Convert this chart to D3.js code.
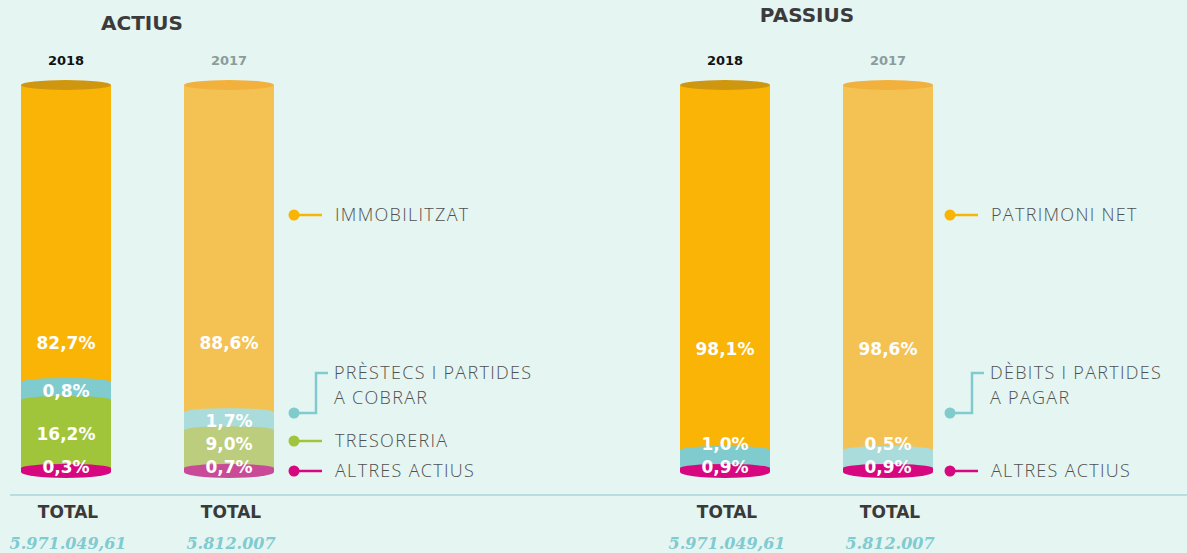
<!DOCTYPE html>
<html>
<head>
<meta charset="utf-8">
<script src="https://cdn.jsdelivr.net/npm/d3@7"></script>
<style>
  html, body { margin: 0; padding: 0; background: #e5f5f2; }
  svg { display: block; }
  .pct { font-family: "DejaVu Sans", sans-serif; font-weight: bold; font-size: 17px; fill: #fff; }
  .legend { font-family: "Open Sans", sans-serif; font-weight: 300; font-size: 18px; fill: #505050; letter-spacing: 1.3px; }
</style>
</head>
<body>
<script>
// dades
var years = ["2018", "2017"];
var actiusCats = ["IMMOBILITZAT", "PRÈSTECS I PARTIDES|A COBRAR", "TRESORERIA", "ALTRES ACTIUS"];
var actius2018 = [82.7, 0.8, 16.2, 0.3];
var actius2017 = [88.6, 1.7, 9.0, 0.7];
var actiusTotals = ["5.971.049,61", "5.812.007"];
var passiusCats = ["PATRIMONI NET", "DÈBITS I PARTIDES|A PAGAR", "ALTRES ACTIUS"];
var passius2018 = [98.1, 1.0, 0.9];
var passius2017 = [98.6, 0.5, 0.9];
var passiusTotals = ["5.971.049,61", "5.812.007"];

// colors
var actiusColors = {
  "2018": ["#f9b406", "#7fcbcd", "#a0c43a", "#d6077f"],
  "2017": ["#f4c253", "#a9dcdb", "#bccd7e", "#c94a96"]
};
var passiusColors = {
  "2018": ["#f9b406", "#7fcbcd", "#d6077f"],
  "2017": ["#f4c253", "#a9dcdb", "#d6077f"]
};
var capColors = { "2018": "#cf960f", "2017": "#f2b13c" };
var actiusLegendColors = ["#f9b406", "#7fcbcd", "#a0c43a", "#d6077f"];
var passiusLegendColors = ["#f9b406", "#7fcbcd", "#d6077f"];

var width = 1187, height = 553;
var cylW = 90, rx = cylW / 2, capRy = 5, arcRy = 4, botRy = 6;
var yTop = 85, yBot = 472;

var svg = d3.select("body").append("svg")
  .attr("width", width)
  .attr("height", height);

var ca = d3.formatLocale({ decimal: ",", thousands: ".", grouping: [3], currency: ["", ""] });
var fmt = ca.format(".1f");

// escala vertical (percentatge -> alçada)
var hScale = d3.scaleLinear().domain([0, 100]).range([0, 420]);

// posicio de les columnes dins de cada panell
var colX = d3.scaleOrdinal().domain(years).range([0, 163]);

// linia separadora
svg.append("line")
  .attr("x1", 10).attr("x2", width)
  .attr("y1", 495).attr("y2", 495)
  .attr("stroke", "#a9d3da").attr("stroke-width", 1.5);

function segPath(x0, y0, y1, upTop) {
  var x1 = x0 + cylW;
  return "M" + x0 + "," + y0 +
    (upTop ? " A" + rx + "," + arcRy + " 0 0 1 " + x1 + "," + y0 : " L" + x1 + "," + y0) +
    " L" + x1 + "," + y1 +
    " A" + rx + "," + botRy + " 0 0 1 " + x0 + "," + y1 + " Z";
}

function drawPanel(opt) {
  var g = svg.append("g").attr("transform", "translate(" + opt.x0 + ",0)");

  // titol
  g.append("text")
    .attr("x", opt.titleX).attr("y", opt.titleY)
    .attr("text-anchor", "middle").attr("dy", "0.35em")
    .style("font-family", "DejaVu Sans, sans-serif").style("font-weight", "bold")
    .style("font-size", "20px").style("fill", "#3b3b3b")
    .text(opt.title);

  years.forEach(function (yr, yi) {
    var vals = opt.values[yi];
    var cols = opt.colors[yr];
    var cx = colX(yr);
    var n = vals.length;

    // segments de baix a dalt
    var segs = [];
    var cur = yBot;
    for (var i = n - 1; i >= 1; i--) {
      var h = Math.max(hScale(vals[i]), i === n - 1 ? 4 : 18);
      segs[i] = { v: vals[i], y0: cur - h, y1: cur, c: cols[i] };
      cur -= h;
    }
    segs[0] = { v: vals[0], y0: yTop, y1: cur, c: cols[0] };

    var cyl = g.append("g").attr("transform", "translate(" + cx + ",0)");

    cyl.selectAll("path.seg")
      .data(segs)
      .enter().append("path")
      .attr("class", "seg")
      .attr("d", function (d, i) { return segPath(0, d.y0, d.y1, i > 0); })
      .attr("fill", function (d) { return d.c; });

    cyl.append("ellipse")
      .attr("cx", rx).attr("cy", yTop)
      .attr("rx", rx).attr("ry", capRy)
      .attr("fill", capColors[yr]);

    // posicio de les etiquetes
    var ly = [];
    var prev = null;
    for (var j = n - 1; j >= 1; j--) {
      var c = (segs[j].y0 + segs[j].y1) / 2 - (j === n - 1 ? 3 : 0);
      if (prev !== null) c = Math.min(c, prev - 23);
      ly[j] = c; prev = c;
    }
    ly[0] = opt.topLabelY;

    cyl.selectAll("text.pct")
      .data(segs)
      .enter().append("text")
      .attr("class", "pct")
      .attr("x", rx)
      .attr("y", function (d, i) { return ly[i]; })
      .attr("dy", "0.36em")
      .attr("text-anchor", "middle")
      .text(function (d) { return fmt(d.v) + "%"; });

    // any
    g.append("text")
      .attr("x", cx + rx).attr("y", 60).attr("dy", "0.35em")
      .attr("text-anchor", "middle")
      .style("font-family", "DejaVu Sans, sans-serif").style("font-weight", "bold")
      .style("font-size", "13px")
      .style("fill", yi === 0 ? "#111" : "#8a9d9c")
      .text(yr);

    // total
    g.append("text")
      .attr("x", cx + rx + 2).attr("y", 512).attr("dy", "0.35em")
      .attr("text-anchor", "middle")
      .style("font-family", "DejaVu Sans, sans-serif").style("font-weight", "bold")
      .style("font-size", "17px").style("fill", "#3a3a3a")
      .text("TOTAL");

    g.append("text")
      .attr("x", cx + rx + 2).attr("y", 543).attr("dy", "0.35em")
      .attr("text-anchor", "middle")
      .style("font-family", "DejaVu Serif, serif").style("font-weight", "bold")
      .style("font-style", "italic")
      .style("font-size", "16px").style("fill", "#7fcbd0")
      .text(opt.totals[yi]);
  });

  // llegenda
  var lg = g.selectAll("g.leg")
    .data(opt.cats)
    .enter().append("g")
    .attr("class", "leg")
    .attr("transform", function (d, i) { return "translate(" + opt.legendX + "," + opt.legendY[i] + ")"; });

  lg.each(function (d, i) {
    var el = d3.select(this);
    var col = opt.legendColors[i];
    var lines = d.split("|");
    if (lines.length > 1) {
      el.append("path")
        .attr("d", "M0,0 H22 V-40 H34")
        .attr("fill", "none").attr("stroke", col).attr("stroke-width", 2.5);
      el.selectAll("text")
        .data(lines)
        .enter().append("text")
        .attr("class", "legend")
        .attr("x", 40)
        .attr("y", function (t, k) { return -40 + k * 25; })
        .attr("dy", "0.36em")
        .text(function (t) { return t; });
    } else {
      el.append("line")
        .attr("x1", 0).attr("x2", 28)
        .attr("stroke", col).attr("stroke-width", 2.5);
      el.append("text")
        .attr("class", "legend")
        .attr("x", 41).attr("dy", "0.36em")
        .text(d);
    }
    el.append("circle").attr("r", 5.5).attr("fill", col);
  });
}

drawPanel({
  x0: 21, title: "ACTIUS", titleX: 121, titleY: 23,
  values: [actius2018, actius2017], colors: actiusColors, totals: actiusTotals,
  cats: actiusCats, legendColors: actiusLegendColors,
  legendX: 273, legendY: [215, 413, 441, 471], topLabelY: 343
});

drawPanel({
  x0: 680, title: "PASSIUS", titleX: 127, titleY: 15,
  values: [passius2018, passius2017], colors: passiusColors, totals: passiusTotals,
  cats: passiusCats, legendColors: passiusLegendColors,
  legendX: 270, legendY: [215, 413, 471], topLabelY: 349
});
</script>
</body>
</html>
